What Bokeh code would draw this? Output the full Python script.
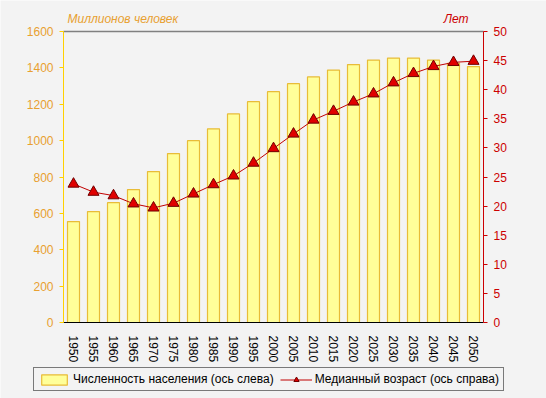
from bokeh.plotting import figure
from bokeh.models import (Range1d, FactorRange, LinearAxis, CategoricalAxis, FixedTicker,
                          Legend, LegendItem, Label, ColumnDataSource)
from bokeh.embed import file_html
from bokeh.resources import INLINE

years = ["1950", "1955", "1960", "1965", "1970", "1975", "1980", "1985", "1990", "1995", "2000",
         "2005", "2010", "2015", "2020", "2025", "2030", "2035", "2040", "2045", "2050"]
population = [555, 610, 659, 731, 830, 929, 1000, 1065, 1147, 1214, 1269,
              1313, 1350, 1388, 1418, 1443, 1454, 1454, 1443, 1425, 1407]
median_age = [23.8, 22.4, 21.8, 20.4, 19.7, 20.5, 22.1, 23.7, 25.2, 27.4, 29.9,
              32.4, 34.8, 36.3, 37.9, 39.3, 41.2, 42.8, 44.0, 44.7, 44.9]
left_ticks = [0, 200, 400, 600, 800, 1000, 1200, 1400, 1600]
right_ticks = [0, 5, 10, 15, 20, 25, 30, 35, 40, 45, 50]
LEFT_MAX = 1600
RIGHT_MAX = 50

BG = "#F3F3F3"
ORANGE = "#E8A030"
RED = "#CC0000"
FONT = "Liberation Sans"

# canvas / plot-area geometry (pixels)
W, H = 546, 398
PLOT_L, PLOT_R, PLOT_T, PLOT_B = 63, 483, 31, 322
n = len(years)
cat_px = (PLOT_R - PLOT_L) / n
px_per_unit = (PLOT_B - PLOT_T) / LEFT_MAX
y_lo = -(H - PLOT_B) / px_per_unit
y_hi = LEFT_MAX + PLOT_T / px_per_unit
ratio = RIGHT_MAX / LEFT_MAX

src = ColumnDataSource(dict(year=years, pop=population, age=median_age))

p = figure(x_range=FactorRange(*years, range_padding=PLOT_L / cat_px,
                               range_padding_units="absolute"),
           y_range=Range1d(y_lo, y_hi),
           width=W, height=H, min_border=0,
           output_backend="svg", toolbar_location=None,
           background_fill_color=BG, border_fill_color=BG, outline_line_color=None)
p.extra_y_ranges = {"age": Range1d(y_lo * ratio, y_hi * ratio)}

bars = p.vbar(x="year", top="pop", width=0.6, source=src,
              fill_color="#FFFF99", line_color="#E8BC38", line_width=1.2)
ln = p.line(x="year", y="age", source=src, y_range_name="age", line_color="#C00000", line_width=1)
mk = p.scatter(x="year", y="age", source=src, y_range_name="age", marker="triangle",
               size=11, fill_color="#E00000", line_color="#700000", line_width=1)

p.xgrid.visible = False
p.ygrid.visible = False

# bottom axis
xa = p.xaxis[0]
xa.fixed_location = 0
xa.bounds = (0, n)
xa.major_label_orientation = "vertical"
xa.axis_line_color = "black"
xa.major_tick_line_color = None
xa.minor_tick_line_color = None
xa.major_label_text_font = FONT
xa.major_label_text_font_size = "12px"
xa.major_label_text_color = "black"
xa.major_label_standoff = 7

# left axis
ya = p.yaxis[0]
ya.fixed_location = 0
ya.ticker = FixedTicker(ticks=left_ticks)
ya.bounds = (0, LEFT_MAX)
ya.axis_line_color = "#FFD000"
ya.major_tick_line_color = "#FFD000"
ya.major_tick_out = 4
ya.major_tick_in = 0
ya.minor_tick_line_color = None
ya.major_label_text_color = ORANGE
ya.major_label_text_font = FONT
ya.major_label_text_font_size = "12px"
ya.major_label_standoff = 6

# right axis
ra = LinearAxis(y_range_name="age", ticker=FixedTicker(ticks=right_ticks),
                bounds=(0, RIGHT_MAX), fixed_location=n)
ra.axis_line_color = RED
ra.major_tick_line_color = RED
ra.major_tick_out = 4
ra.major_tick_in = 0
ra.minor_tick_line_color = None
ra.major_label_text_color = RED
ra.major_label_text_font = FONT
ra.major_label_text_font_size = "12px"
ra.major_label_standoff = 6
p.add_layout(ra, "right")

# grey top border of the plot area
ta = CategoricalAxis(fixed_location=LEFT_MAX, bounds=(0, n))
ta.axis_line_color = "#808080"
ta.axis_line_width = 1.5
ta.major_tick_line_color = None
ta.minor_tick_line_color = None
ta.major_label_text_color = None
ta.major_label_text_font_size = "0px"
p.add_layout(ta, "above")

p.add_layout(Label(x=0, y=LEFT_MAX, x_offset=4, y_offset=6, text="Миллионов человек",
                   text_font=FONT, text_font_size="12px", text_font_style="italic",
                   text_color=ORANGE, text_align="left", text_baseline="bottom"))
p.add_layout(Label(x=n, y=LEFT_MAX, x_offset=-15, y_offset=6, text="Лет",
                   text_font=FONT, text_font_size="12px", text_font_style="italic",
                   text_color=RED, text_align="right", text_baseline="bottom"))

legend = Legend(items=[LegendItem(label="Численность населения (ось слева)", renderers=[bars]),
                       LegendItem(label="Медианный возраст (ось справа)", renderers=[ln, mk])],
                orientation="horizontal", location=(33, 7),
                background_fill_color=BG, background_fill_alpha=1,
                border_line_color="black", border_line_width=1,
                label_text_font=FONT, label_text_font_size="12px", label_text_color="black",
                glyph_width=32, glyph_height=13, padding=4, spacing=6, margin=0,
                label_standoff=3, label_height=14)
p.add_layout(legend, "center")

open("out.html", "w").write(file_html(p, INLINE))
